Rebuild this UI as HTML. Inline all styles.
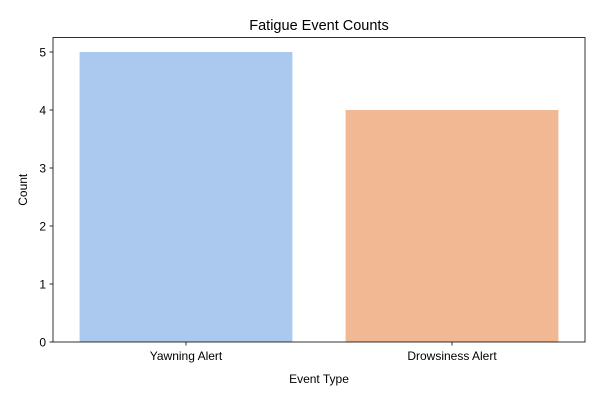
<!DOCTYPE html>
<html>
<head>
<meta charset="utf-8">
<style>
html,body{margin:0;padding:0;background:#fff;}
svg{display:block;font-family:"Liberation Sans","DejaVu Sans",sans-serif;}
</style>
</head>
<body>
<svg id="chart" width="600" height="400" viewBox="0 0 600 400"></svg>
<script>
const categories = ["Yawning Alert", "Drowsiness Alert"];
const counts = [5, 4];
const yTicks = [0, 1, 2, 3, 4, 5];
const barColors = ["#abc9ee", "#f0b893"];

const svg = document.getElementById('chart');
const NS = 'http://www.w3.org/2000/svg';
const L = 53, R = 585, T = 37.5, B = 342;
const yMax = 5.25;
function y(v){ return B - v / yMax * (B - T); }
function x(i){ return L + (i + 0.5) / categories.length * (R - L); }
const band = (R - L) / categories.length;

function mk(tag, attrs, text){
  const e = document.createElementNS(NS, tag);
  for (const k in attrs) e.setAttribute(k, attrs[k]);
  if (text !== undefined) e.textContent = text;
  svg.appendChild(e);
  return e;
}

categories.forEach((c, i) => {
  const w = band * 0.8;
  const r = mk('rect', {x: x(i) - w/2, y: y(counts[i]), width: w, height: B - y(counts[i]), fill: barColors[i]});
  
  
  const tk = mk('line', {x1: x(i), x2: x(i), y1: B, y2: B + 3.5, stroke: '#000', 'stroke-width': 0.8});
  
  
  const t = mk('text', {x: x(i), y: B + 18, 'text-anchor': 'middle', 'font-size': 12, fill: '#000'}, c);
  
  
});

yTicks.forEach(v => {
  const tk = mk('line', {x1: L - 3.5, x2: L, y1: y(v), y2: y(v), stroke: '#000', 'stroke-width': 0.8});
  
  
  const t = mk('text', {x: L - 7, y: y(v) + 4.5, 'text-anchor': 'end', 'font-size': 12, fill: '#000'}, String(v));
  
  
});

const frame = mk('rect', {x: L, y: T, width: R - L, height: B - T, fill: 'none', stroke: '#000', 'stroke-width': 0.8});



const title = mk('text', {x: (L + R) / 2, y: 30, 'text-anchor': 'middle', 'font-size': 14.5, fill: '#000'}, 'Fatigue Event Counts');



const xt = mk('text', {x: (L + R) / 2, y: 383, 'text-anchor': 'middle', 'font-size': 12, fill: '#000'}, 'Event Type');



const yt = mk('text', {x: 27, y: (T + B) / 2, 'text-anchor': 'middle', 'font-size': 12, fill: '#000', transform: 'rotate(-90 27 ' + ((T + B) / 2) + ')'}, 'Count');


</script>
</body>
</html>
